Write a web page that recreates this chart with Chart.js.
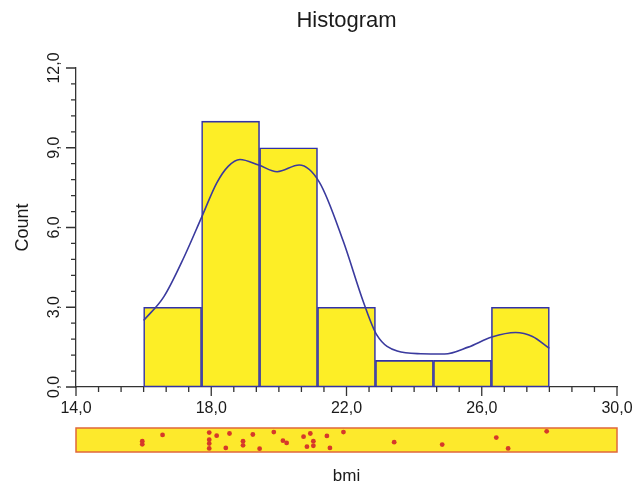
<!DOCTYPE html>
<html>
<head>
<meta charset="utf-8">
<script src="https://cdn.jsdelivr.net/npm/chart.js@4.4.0/dist/chart.umd.min.js"></script>
<style>
    body { margin: 0; background: #fff; }
    #wrap { position: relative; width: 638px; height: 488px; }
    #grafico-hist { position: absolute; left: 0; top: 0; }
    #grafico-rug { position: absolute; left: 0; top: 420px; }
</style>
</head>
<body>
<div id="wrap">
    <canvas id="grafico-hist" width="638" height="488"></canvas>
    <canvas id="grafico-rug" width="638" height="68"></canvas>
</div>
<script>
// datos del histograma (bmi)
var binEdges = [16.0, 17.714, 19.429, 21.143, 22.857, 24.571, 26.286, 28.0];
var binCounts = [3, 10, 9, 3, 1, 1, 3];

// curva de densidad (en escala de Count)
var curveX = [16.0, 16.6, 17.2, 17.72, 18.16, 18.5, 18.85, 19.4, 19.95, 20.6, 21.2, 21.9, 22.5, 22.9, 23.5, 24.2, 24.9, 25.6, 26.3, 27.0, 27.5, 28.0];
var curveY = [2.5, 3.4, 4.9, 6.4, 7.67, 8.3, 8.56, 8.35, 8.1, 8.35, 7.7, 5.5, 3.2, 1.95, 1.35, 1.25, 1.24, 1.5, 1.88, 2.05, 1.9, 1.45];

// valores individuales (rug) y su posicion vertical dentro de la franja
var rugValues = [15.96, 15.96, 16.56, 17.94, 17.94, 17.94, 17.94, 18.16, 18.43, 18.54, 18.94, 18.94, 19.23, 19.43, 19.85, 20.12, 20.23, 20.73, 20.83, 20.93, 21.02, 21.02, 21.42, 21.51, 21.91, 23.41, 24.83, 26.43, 26.78, 27.92];
var rugJitter = [0.45, 0.32, 0.71, 0.81, 0.51, 0.35, 0.15, 0.68, 0.17, 0.77, 0.45, 0.28, 0.73, 0.14, 0.83, 0.47, 0.38, 0.64, 0.22, 0.77, 0.45, 0.26, 0.67, 0.17, 0.83, 0.41, 0.31, 0.60, 0.15, 0.86];

var xTickLabels = ['14,0', '18,0', '22,0', '26,0', '30,0'];
var yTickLabels = ['0,0', '3,0', '6,0', '9,0', '12,0'];

var barData = [];
for (var i = 0; i < binCounts.length; i++) {
    barData.push({ x: (binEdges[i] + binEdges[i + 1]) / 2, y: binCounts[i] });
}
var lineData = [];
for (var i = 0; i < curveX.length; i++) {
    lineData.push({ x: curveX[i], y: curveY[i] });
}
var rugData = [];
for (var i = 0; i < rugValues.length; i++) {
    rugData.push({ x: rugValues[i], y: rugJitter[i] });
}

var axisColor = '#333333';

// marcas de los ejes: largas en los valores con etiqueta, cortas entre ellas
var tickMarks = {
    id: 'tickMarks',
    afterDraw: function (chart) {
        var ctx = chart.ctx;
        var xs = chart.scales.x;
        var ys = chart.scales.y;
        ctx.save();
        ctx.strokeStyle = axisColor;
        ctx.lineWidth = 1.3;
        ctx.beginPath();
        // 6 divisiones entre etiquetas en x, 5 en y
        for (var k = 0; k <= 24; k++) {
            var px = xs.getPixelForValue(xs.min + k * (xs.max - xs.min) / 24);
            var len = (k % 6 === 0) ? 9 : 5;
            ctx.moveTo(px, xs.top);
            ctx.lineTo(px, xs.top + len);
        }
        for (var j = 0; j <= 20; j++) {
            var py = ys.getPixelForValue(ys.min + j * (ys.max - ys.min) / 20);
            var len2 = (j % 5 === 0) ? 10 : 5;
            ctx.moveTo(ys.right, py);
            ctx.lineTo(ys.right - len2, py);
        }
        ctx.stroke();
        ctx.restore();
    }
};

Chart.defaults.font.family = '"Liberation Sans", Arial, sans-serif';
Chart.defaults.color = '#1a1a1a';

const ctx = document.getElementById('grafico-hist');
var myChart = new Chart(ctx, {
    data: {
        datasets: [{
            type: 'line',
            label: 'densidad',
            data: lineData,
            borderColor: '#3a3a9e',
            borderWidth: 1.6,
            pointRadius: 0,
            tension: 0.4,
            cubicInterpolationMode: 'monotone',
            fill: false,
            order: 0
        }, {
            type: 'bar',
            label: 'Count',
            data: barData,
            backgroundColor: '#fdee26',
            borderColor: '#3232a8',
            borderWidth: 1.6,
            borderSkipped: false,
            barPercentage: 1,
            categoryPercentage: 1,
            order: 1
        }]
    },
    options: {
        responsive: false,
        animation: false,
        layout: { padding: { left: 0, right: 21, top: 0, bottom: 0 } },
        plugins: {
            legend: { display: false },
            tooltip: { enabled: false },
            title: {
                display: true,
                text: 'Histogram',
                fullSize: false,
                font: { size: 22, weight: 'normal' },
                padding: { top: 8, bottom: 33.6 }
            }
        },
        scales: {
            x: {
                type: 'linear',
                min: 14,
                max: 30,
                offset: false,
                grid: { display: false, tickLength: 0, offset: false },
                border: { display: true, color: axisColor, width: 1.3 },
                ticks: {
                    stepSize: 4,
                    autoSkip: false,
                    maxRotation: 0,
                    padding: 12,
                    font: { size: 16 },
                    callback: function (value, index) {
                        return xTickLabels[index];
                    }
                },
                afterFit: function (scale) {
                    scale.height = 101;
                    scale.paddingLeft = 0;
                    scale.paddingRight = 0;
                }
            },
            y: {
                min: 0,
                max: 12,
                grid: { display: false, tickLength: 0 },
                border: { display: true, color: axisColor, width: 1.3 },
                title: {
                    display: true,
                    text: 'Count',
                    font: { size: 18 },
                    padding: { top: 12, bottom: 0 }
                },
                ticks: {
                    stepSize: 3,
                    autoSkip: false,
                    minRotation: 90,
                    maxRotation: 90,
                    crossAlign: 'center',
                    padding: 5.5,
                    font: { size: 16 },
                    callback: function (value, index) {
                        return yTickLabels[index];
                    }
                },
                afterFit: function (scale) { scale.width = 76; }
            }
        }
    },
    plugins: [tickMarks]
});

// franja con los valores individuales
var rugBox = {
    id: 'rugBox',
    beforeDatasetsDraw: function (chart) {
        var a = chart.chartArea;
        var c = chart.ctx;
        c.save();
        c.fillStyle = '#fde92c';
        c.fillRect(a.left, a.top, a.right - a.left, a.bottom - a.top);
        c.strokeStyle = '#e0673a';
        c.lineWidth = 1.5;
        c.strokeRect(a.left, a.top, a.right - a.left, a.bottom - a.top);
        c.restore();
    }
};

const ctx2 = document.getElementById('grafico-rug');
var rugChart = new Chart(ctx2, {
    type: 'scatter',
    data: {
        datasets: [{
            label: 'bmi',
            data: rugData,
            pointRadius: 2.4,
            pointBackgroundColor: '#d6382a',
            pointBorderWidth: 0
        }]
    },
    options: {
        responsive: false,
        animation: false,
        layout: { padding: { left: 76, right: 21, top: 8, bottom: 0 } },
        plugins: {
            legend: { display: false },
            tooltip: { enabled: false }
        },
        scales: {
            x: {
                type: 'linear',
                min: 14,
                max: 30,
                grid: { display: false },
                border: { display: false },
                ticks: { display: false },
                title: {
                    display: true,
                    text: 'bmi',
                    font: { size: 17 },
                    padding: { top: 0, bottom: 1 }
                },
                afterFit: function (scale) { scale.height = 36; }
            },
            y: {
                display: false,
                min: 0,
                max: 1
            }
        }
    },
    plugins: [rugBox]
});
</script>
</body>
</html>
